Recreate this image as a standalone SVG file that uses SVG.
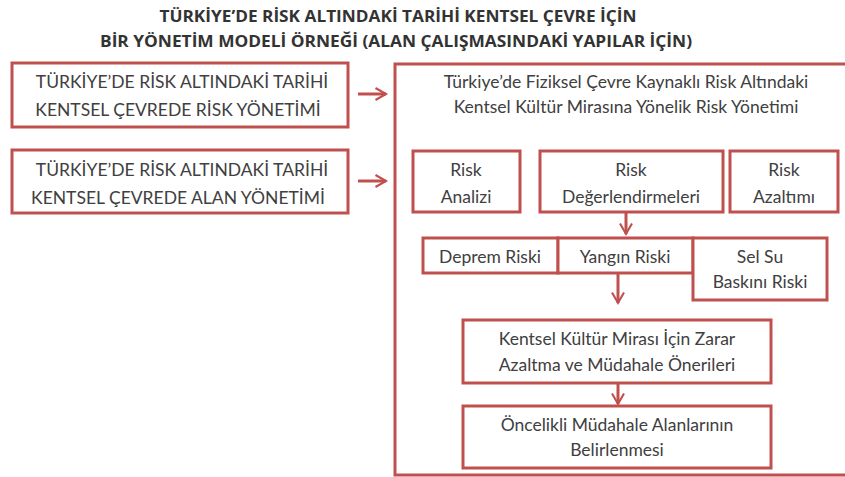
<svg xmlns="http://www.w3.org/2000/svg" width="845" height="477" viewBox="0 0 845 477">
<defs>
<style>
.box{fill:#fff;stroke:#c0504d;stroke-width:3}
.t{font-family:Lato,"Open Sans","Liberation Sans",sans-serif;font-size:17.5px;fill:#404040;text-anchor:middle}
.ttl{font-family:"Open Sans","Liberation Sans",sans-serif;font-size:16px;font-weight:bold;fill:#333;text-anchor:middle}
.c{stroke:#c0504d;stroke-width:3;fill:none}
</style>
<marker id="ah" viewBox="0 0 10 10" refX="8" refY="5" markerWidth="5" markerHeight="5" orient="auto" markerUnits="strokeWidth">
<path d="M1,1 L8,5 L1,9" fill="none" stroke="#c0504d" stroke-width="1.4" stroke-linejoin="miter"/>
</marker>
</defs>
<rect width="845" height="477" fill="#fff"/>
<g id="title">
<text class="ttl" x="398" y="22" textLength="477" lengthAdjust="spacingAndGlyphs">TÜRKİYE’DE RİSK ALTINDAKİ TARİHİ KENTSEL ÇEVRE İÇİN</text>
<text class="ttl" x="396" y="47" textLength="592" lengthAdjust="spacingAndGlyphs">BİR YÖNETİM MODELİ ÖRNEĞİ (ALAN ÇALIŞMASINDAKİ YAPILAR İÇİN)</text>
</g>
<g id="nodeA">
<rect class="box" x="12" y="63" width="336" height="64"/>
<text class="t" x="182" y="88">TÜRKİYE’DE RİSK ALTINDAKİ TARİHİ</text>
<text class="t" x="178" y="116">KENTSEL ÇEVREDE RİSK YÖNETİMİ</text>
</g>
<g id="nodeB">
<rect class="box" x="12" y="150" width="336" height="63"/>
<text class="t" x="182" y="176">TÜRKİYE’DE RİSK ALTINDAKİ TARİHİ</text>
<text class="t" x="178" y="204">KENTSEL ÇEVREDE ALAN YÖNETİMİ</text>
</g>
<g id="main">
<rect class="box" x="395" y="64" width="460" height="411"/>
<text class="t" x="626" y="88">Türkiye’de Fiziksel Çevre Kaynaklı Risk Altındaki</text>
<text class="t" x="626" y="113">Kentsel Kültür Mirasına Yönelik Risk Yönetimi</text>
</g>
<g id="riskAnalizi">
<rect class="box" x="413" y="151" width="107" height="61"/>
<text class="t" x="466" y="176">Risk</text>
<text class="t" x="466" y="203">Analizi</text>
</g>
<g id="riskDeger">
<rect class="box" x="540" y="151" width="183" height="61"/>
<text class="t" x="631" y="176">Risk</text>
<text class="t" x="631" y="203">Değerlendirmeleri</text>
</g>
<g id="riskAzaltimi">
<rect class="box" x="730" y="151" width="108" height="61"/>
<text class="t" x="784" y="176">Risk</text>
<text class="t" x="784" y="203">Azaltımı</text>
</g>
<g id="deprem">
<rect class="box" x="423" y="238" width="135" height="35"/>
<text class="t" x="490" y="263">Deprem Riski</text>
</g>
<g id="yangin">
<rect class="box" x="558" y="238" width="135" height="35"/>
<text class="t" x="625" y="263">Yangın Riski</text>
</g>
<g id="sel">
<rect class="box" x="693" y="238" width="134" height="62"/>
<text class="t" x="760" y="263">Sel Su</text>
<text class="t" x="760" y="288">Baskını Riski</text>
</g>
<g id="kentsel">
<rect class="box" x="463" y="320" width="308" height="63"/>
<text class="t" x="617" y="345">Kentsel Kültür Mirası İçin Zarar</text>
<text class="t" x="617" y="371">Azaltma ve Müdahale Önerileri</text>
</g>
<g id="oncelikli">
<rect class="box" x="463" y="406" width="308" height="62"/>
<text class="t" x="617" y="431">Öncelikli Müdahale Alanlarının</text>
<text class="t" x="617" y="456">Belirlenmesi</text>
</g>
<g id="connectors">
<line class="c" x1="358" y1="94" x2="386" y2="94" marker-end="url(#ah)"/>
<line class="c" x1="358" y1="181" x2="386" y2="181" marker-end="url(#ah)"/>
<line class="c" x1="626" y1="212" x2="626" y2="234" marker-end="url(#ah)"/>
<line class="c" x1="618" y1="273" x2="618" y2="303" marker-end="url(#ah)"/>
<line class="c" x1="618" y1="383" x2="618" y2="404" marker-end="url(#ah)"/>
</g>
</svg>
